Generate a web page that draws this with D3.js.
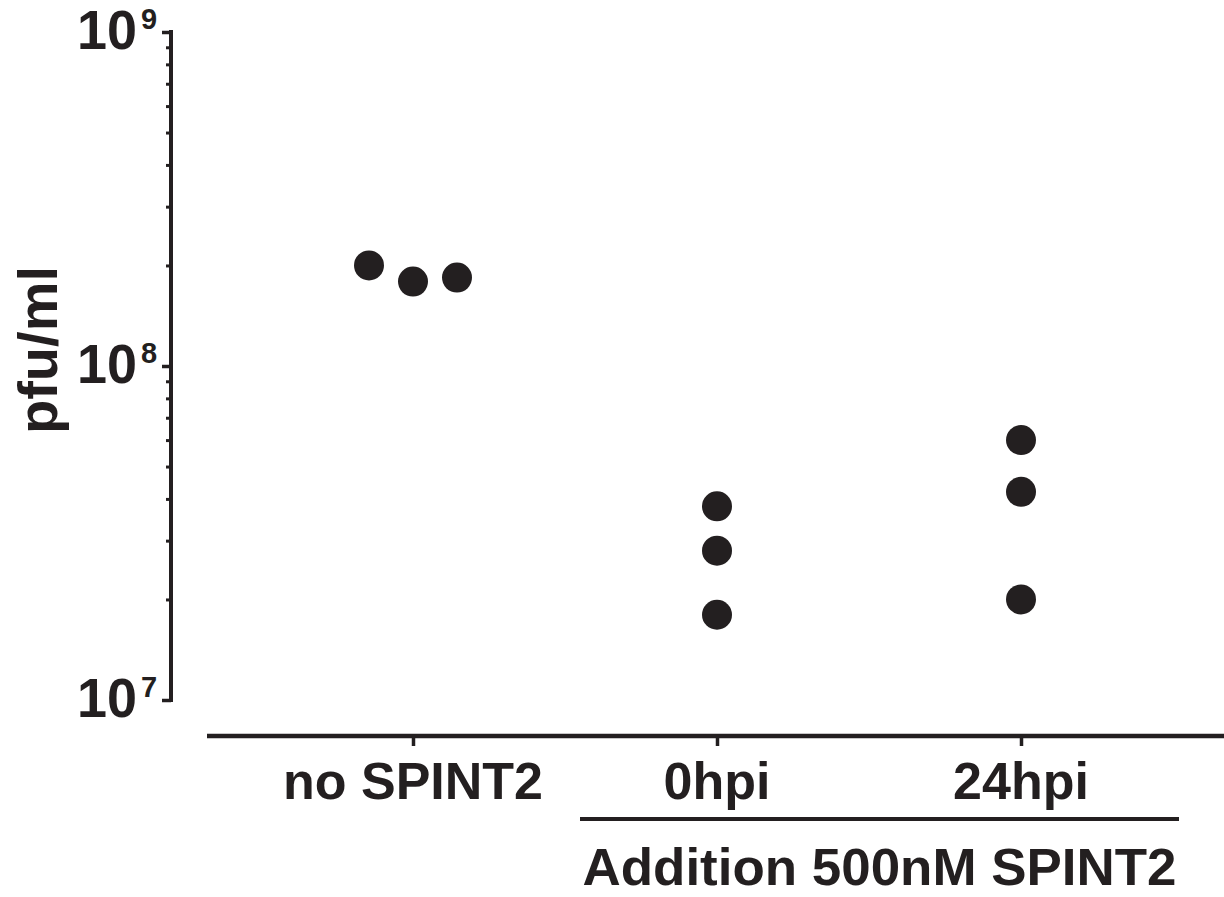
<!DOCTYPE html>
<html>
<head>
<meta charset="utf-8">
<script src="https://cdn.jsdelivr.net/npm/d3@7"></script>
<style>
  html, body { margin: 0; padding: 0; background: #fff; }
  svg { display: block; }
  text { font-family: "Liberation Sans", Arial, Helvetica, sans-serif; font-weight: bold; fill: #231f20; }
</style>
</head>
<body>
<svg id="chart" width="1224" height="897"></svg>
<script>
// Titres (pfu/ml) per condition, three replicates each
const categories = ["no SPINT2", "0hpi", "24hpi"];
const noSpint2 = [2.0e8, 1.79e8, 1.84e8];
const hpi0 = [3.8e7, 2.8e7, 1.8e7];
const hpi24 = [6.0e7, 4.2e7, 2.0e7];
const seriesValues = [noSpint2, hpi0, hpi24];
const majorTicks = [1e7, 1e8, 1e9];
const majorTickExponents = ["7", "8", "9"];
const groupLabel = "Addition 500nM SPINT2";
const groupMembers = ["0hpi", "24hpi"];
const yTitle = "pfu/ml";

const ink = "#231f20";
const svg = d3.select("#chart");
svg.append("rect").attr("width", 1224).attr("height", 897).attr("fill", "#fff");

const y = d3.scaleLog().domain([1e7, 1e9]).range([700, 32]);
const x = d3.scalePoint().domain(categories).range([413, 1021]);

const axisX = 171;
const axisY = 736;

// minor ticks 2..9 within each decade
const minorTicks = [];
for (let d = 0; d < majorTicks.length - 1; d++) {
  for (let k = 2; k <= 9; k++) minorTicks.push(majorTicks[d] * k);
}

// Y axis
const yAxisG = svg.append("g")
  .attr("transform", `translate(${axisX},0)`)
  .call(d3.axisLeft(y)
    .tickValues(majorTicks.concat(minorTicks))
    .tickFormat("")
    .tickSizeOuter(0));
yAxisG.select(".domain").attr("stroke", ink).attr("stroke-width", 4)
  .attr("d", `M0,${y(1e7) + 2}V${y(1e9) - 2}`);
yAxisG.selectAll(".tick line")
  .attr("stroke", ink)
  .attr("stroke-width", d => majorTicks.includes(d) ? 3.5 : 3)
  .attr("x2", d => majorTicks.includes(d) ? -9 : -5);

// Y tick labels: 10 with superscript exponent
const yLabels = svg.append("g");
majorTicks.forEach((v, i) => {
  yLabels.append("text")
    .attr("x", 137)
    .attr("y", y(v) + 17)
    .attr("text-anchor", "end")
    .attr("textLength", 60)
    .attr("lengthAdjust", "spacingAndGlyphs")
    .style("font-size", "55px")
    .text("10");
  yLabels.append("text")
    .attr("x", 141)
    .attr("y", y(v) - 3)
    .style("font-size", "29px")
    .text(majorTickExponents[i]);
});

// Y title
svg.append("text")
  .attr("transform", `translate(57,350) rotate(-90)`)
  .attr("text-anchor", "middle")
  .style("font-size", "56px")
  .text(yTitle);

// X axis
const xAxisG = svg.append("g")
  .attr("transform", `translate(0,${axisY})`)
  .call(d3.axisBottom(x).tickSize(10).tickSizeOuter(0).tickFormat(""));
xAxisG.select(".domain").attr("stroke", ink).attr("stroke-width", 4.5)
  .attr("d", "M207,0H1224");
xAxisG.selectAll(".tick line").attr("stroke", ink).attr("stroke-width", 3.5);

// Category labels
svg.append("g").selectAll("text")
  .data(categories)
  .join("text")
  .attr("x", d => x(d))
  .attr("y", axisY + 63)
  .attr("text-anchor", "middle")
  .style("font-size", "52px")
  .text(d => d);

// Group bracket for the SPINT2 addition conditions
const gx0 = x(groupMembers[0]) - 137;
const gx1 = x(groupMembers[1]) + 158;
svg.append("line")
  .attr("x1", gx0).attr("x2", gx1)
  .attr("y1", 819).attr("y2", 819)
  .attr("stroke", ink).attr("stroke-width", 4);
svg.append("text")
  .attr("x", (gx0 + gx1) / 2)
  .attr("y", 885)
  .attr("text-anchor", "middle")
  .attr("textLength", 594)
  .attr("lengthAdjust", "spacingAndGlyphs")
  .style("font-size", "52px")
  .text(groupLabel);

// Points: spread horizontally when replicates would overlap
const r = 15;
const spread = 44;
const points = [];
categories.forEach((c, ci) => {
  const vals = seriesValues[ci];
  const ys = vals.map(v => y(v));
  const overlap = (d3.max(ys) - d3.min(ys)) < 2 * r + 6;
  vals.forEach((v, i) => {
    const off = overlap ? (i - (vals.length - 1) / 2) * spread : 0;
    points.push({ cx: x(c) + off, cy: y(v) });
  });
});
svg.append("g").selectAll("circle")
  .data(points)
  .join("circle")
  .attr("cx", d => d.cx)
  .attr("cy", d => d.cy)
  .attr("r", r)
  .attr("fill", ink);
</script>
</body>
</html>
